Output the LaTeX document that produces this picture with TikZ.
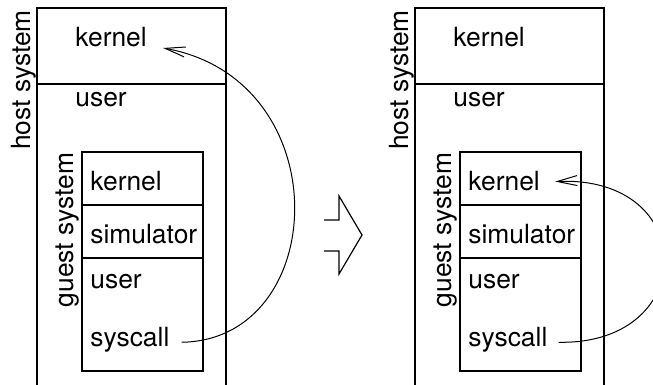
\documentclass[tikz,border=0pt]{standalone}
\usepackage{fontspec}
\setmainfont{TeX Gyre Heros}
\usetikzlibrary{arrows.meta}
\tikzstyle{layer}=[draw,line width=0.6pt]
\tikzstyle{txt}=[anchor=base west,inner sep=0pt,font=\fontsize{13.2}{16}\selectfont]
\tikzstyle{sidetxt}=[txt,rotate=90,anchor=center]
\tikzstyle{call}=[draw,line width=0.5pt,-{Straight Barb[length=10pt,width=5pt]}]

\begin{document}
\begin{tikzpicture}[x=0.5pt,y=-0.5pt]

    \clip (0,0) rectangle (653,385);

    \foreach \dx/\p in {0/L, 378/R}{
        % host system
        \draw[layer] (37+\dx,395) -- (37+\dx,8) -- (226+\dx,8) -- (226+\dx,395);
        \draw[layer] (37+\dx,84) -- (226+\dx,84);
        \node[sidetxt] (host\p) at (24+\dx,80) {host system};
        \node[txt] (hkern\p) at (75+\dx,47) {kernel};
        \node[txt] (huser\p) at (75+\dx,107) {user};
        % guest system
        \draw[layer] (82+\dx,152) rectangle (203+\dx,371);
        \foreach \y in {205,258}
            \draw[layer] (82+\dx,\y) -- (203+\dx,\y);
        \node[sidetxt] (guest\p) at (68+\dx,230) {guest system};
        \node[txt] (gkern\p) at (90+\dx,191) {kernel};
        \node[txt] (gsim\p) at (90+\dx,243) {simulator};
        \node[txt] (guser\p) at (90+\dx,288) {user};
        \node[txt] (gsys\p) at (90+\dx,346) {syscall};
    }

    % hollow arrow between the two panels
    \draw[layer] (324,220) -- (339,220) -- (339,196) -- (362,235) -- (339,274) -- (339,251) -- (324,251);

    % syscall paths
    \draw[call] ([shift={(12,3)}]gsysL.east) .. controls (330,340) and (340,80) .. ([shift={(16,1)}]hkernL.base east);
    \draw[call] ([shift={(11,3)}]gsysR.east) .. controls (700,345) and (700,175) .. ([shift={(15,0)}]gkernR.east);

\end{tikzpicture}
\end{document}
